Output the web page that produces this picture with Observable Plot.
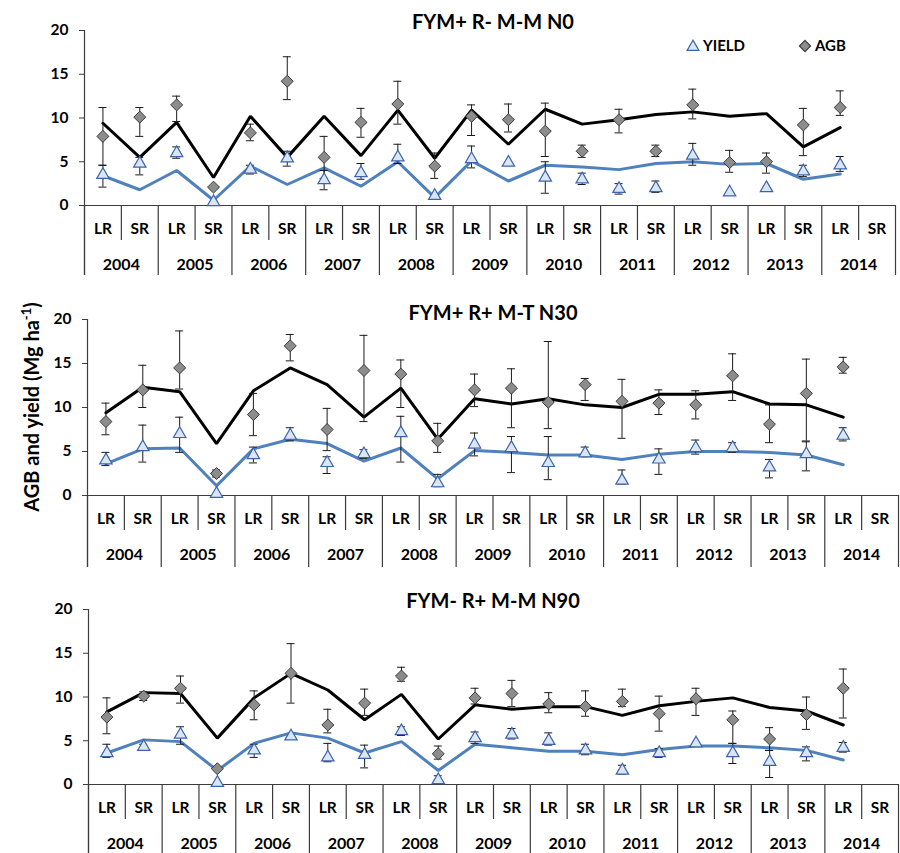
<!DOCTYPE html>
<html>
<head>
<meta charset="utf-8">
<script src="https://cdn.jsdelivr.net/npm/d3@7"></script>
<script src="https://cdn.jsdelivr.net/npm/@observablehq/plot@0.6"></script>
<style>
  html, body { margin: 0; padding: 0; background: #fff; }
  #wrap { position: relative; width: 900px; height: 853px; overflow: hidden; font-family: Lato, "Open Sans", sans-serif; color: #000; }
  #wrap svg { position: absolute; left: 0; overflow: visible; }
  .ptitle { position: absolute; font-weight: 700; font-size: 20px; white-space: nowrap; transform: translateX(-50%); line-height: 1; }
  .ytitle { position: absolute; font-weight: 700; font-size: 20px; white-space: nowrap; transform: translate(-50%, -50%) rotate(-90deg); line-height: 1; }
  .ytitle sup { font-size: 13px; vertical-align: 8px; line-height: 0; }
  .legend { position: absolute; font-weight: 700; font-size: 15px; line-height: 1; display: flex; align-items: center; white-space: nowrap; }
  .legend svg { position: static !important; margin-right: 3px; }
</style>
</head>
<body>
<div id="wrap"></div>
<script>
// ---------- categories ----------
const seasons = ["LR", "SR"];
const years = [2004, 2005, 2006, 2007, 2008, 2009, 2010, 2011, 2012, 2013, 2014];
const yTicks = [0, 5, 10, 15, 20];
const titles = ["FYM+ R- M-M N0", "FYM+ R+ M-T N30", "FYM- R+ M-M N90"];

// ---------- Panel 1: FYM+ R- M-M N0 ----------
const agbObs1  = [7.9, 10.1, 11.5, 2.1, 8.3, 14.2, 5.5, 9.5, 11.6, 4.5, 10.2, 9.8, 8.5, 6.2, 9.8, 6.2, 11.5, 4.9, 5.0, 9.2, 11.2, null];
const agbLo1   = [4.6, 7.9, 9.6, null, 7.4, 12.1, 3.1, 7.8, 9.3, 3.1, 8.0, 8.4, 5.6, 5.5, 8.3, 5.6, 9.9, 3.8, 3.7, 5.7, 10.3, null];
const agbHi1   = [11.2, 11.2, 12.5, null, 9.3, 17.0, 7.9, 11.1, 14.2, 6.0, 11.5, 11.6, 11.7, 6.9, 11.0, 6.9, 13.3, 6.3, 6.0, 11.1, 13.1, null];
const yldObs1  = [3.5, 4.8, 6.0, 0.4, 4.1, 5.4, 2.9, 3.7, 5.5, 1.1, 5.3, 4.9, 3.2, 3.0, 1.9, 2.0, 5.7, 1.5, 2.0, 3.9, 4.6, null];
const yldLo1   = [2.1, 3.5, 5.4, null, 3.6, 4.5, 1.8, 3.0, 4.8, null, 4.3, null, 1.4, 2.4, 1.3, 1.5, 4.6, null, null, 3.3, 3.9, null];
const yldHi1   = [4.6, 5.5, 6.7, null, 4.6, 6.2, 4.0, 4.8, 7.0, null, 6.8, null, 5.0, 3.7, 2.5, 2.8, 7.1, null, null, 4.6, 5.6, null];
const agbSim1  = [9.4, 5.5, 9.5, 3.2, 10.2, 5.5, 10.2, 5.7, 10.9, 5.4, 10.9, 7.0, 11.0, 9.3, 9.8, 10.4, 10.7, 10.2, 10.5, 6.7, 8.9, null];
const yldSim1  = [3.4, 1.8, 4.0, 0.6, 4.5, 2.4, 4.3, 2.2, 5.0, 0.9, 5.1, 2.8, 4.6, 4.4, 4.1, 4.8, 5.0, 4.7, 4.8, 3.0, 3.6, null];

// ---------- Panel 2: FYM+ R+ M-T N30 ----------
const agbObs2  = [8.4, 12.0, 14.5, 2.5, 9.2, 17.0, 7.5, 14.2, 13.8, 6.2, 12.0, 12.2, 10.6, 12.6, 10.7, 10.5, 10.3, 13.6, 8.1, 11.6, 14.6, null];
const agbLo2   = [6.9, 10.0, 12.1, 2.1, 6.8, 15.3, 5.1, 8.4, 10.0, 4.9, 10.1, 7.7, 7.6, 10.8, 6.5, 9.2, 8.7, 10.8, 6.0, 6.2, 13.9, null];
const agbHi2   = [10.5, 14.8, 18.7, 2.9, 11.6, 18.3, 9.9, 18.2, 15.4, 8.2, 13.8, 14.4, 17.5, 13.3, 13.2, 12.0, 11.9, 16.1, 10.3, 15.5, 15.7, null];
const yldObs2  = [4.0, 5.5, 7.0, 0.2, 4.6, 6.8, 3.7, 4.7, 7.1, 1.4, 5.8, 5.4, 3.7, 4.8, 1.7, 4.1, 5.4, 5.4, 3.2, 4.7, 6.8, null];
const yldLo2   = [3.4, 3.8, 4.9, null, 3.7, 6.2, 2.5, 4.2, 3.8, 1.0, 4.5, 2.6, 1.8, 4.4, 1.3, 2.4, 4.7, 4.9, 2.0, 2.8, 6.2, null];
const yldHi2   = [4.9, 8.0, 8.9, null, 5.5, 7.7, 4.4, 5.2, 9.0, 2.4, 7.1, 6.7, 6.7, 5.5, 2.9, 5.3, 6.3, 6.0, 4.1, 6.1, 7.7, null];
const agbSim2  = [9.4, 12.3, 11.8, 5.9, 11.9, 14.5, 12.6, 8.9, 12.2, 6.4, 11.0, 10.4, 11.0, 10.3, 10.0, 11.5, 11.5, 11.8, 10.4, 10.3, 8.9, null];
const yldSim2  = [3.6, 5.3, 5.4, 1.1, 5.3, 6.4, 5.9, 3.9, 5.4, 1.9, 5.1, 4.9, 4.6, 4.6, 4.1, 4.7, 5.0, 5.0, 4.9, 4.6, 3.5, null];

// ---------- Panel 3: FYM- R+ M-M N90 ----------
const agbObs3  = [7.7, 10.1, 11.0, 1.8, 9.1, 12.7, 6.8, 9.3, 12.4, 3.5, 9.9, 10.4, 9.2, 8.9, 9.5, 8.1, 9.8, 7.4, 5.2, 8.0, 11.0, null];
const agbLo3   = [5.8, 9.6, 9.3, null, 7.4, 9.3, 5.9, 7.9, 11.8, 2.9, 9.2, 8.9, 8.2, 7.8, 8.9, 6.1, 7.9, 4.7, 3.9, 6.3, 7.6, null];
const agbHi3   = [9.9, 10.6, 12.4, null, 10.7, 16.1, 8.6, 10.9, 13.4, 4.4, 11.0, 11.9, 10.5, 10.7, 10.9, 10.1, 11.0, 8.4, 6.5, 10.0, 13.2, null];
const yldObs3  = [3.6, 4.3, 5.7, 0.2, 3.9, 5.5, 3.1, 3.4, 6.1, 0.5, 5.3, 5.7, 5.0, 3.9, 1.6, 3.6, 4.7, 3.6, 2.6, 3.6, 4.2, null];
const yldLo3   = [3.1, 4.0, 4.6, null, 3.1, null, 2.6, 1.9, 5.6, 0.1, 4.7, 5.2, 4.5, 3.4, 1.2, 3.1, null, 2.4, 0.8, 2.7, 3.7, null];
const yldHi3   = [4.6, 4.6, 6.6, null, 4.6, null, 4.7, 4.5, 6.6, 1.0, 6.0, 6.4, 5.9, 4.6, 2.2, 4.1, null, 4.7, 3.9, 4.3, 4.8, null];
const agbSim3  = [8.3, 10.5, 10.4, 5.3, 9.9, 12.7, 10.8, 7.4, 10.3, 5.2, 9.1, 8.6, 8.9, 8.9, 7.9, 9.0, 9.5, 9.9, 8.8, 8.4, 6.8, null];
const yldSim3  = [3.6, 5.1, 4.9, 1.6, 4.7, 5.9, 5.3, 3.6, 4.9, 1.6, 4.6, 4.2, 3.8, 3.8, 3.4, 4.0, 4.4, 4.4, 4.2, 3.9, 2.8, null];

// ---------- styling constants ----------
const AXIS = "#3c3c3c";
const ERR = "#1a1a1a";
const SIM_AGB = "#000000";
const SIM_YLD = "#4f81bd";
const TRI_FILL = "#dce6f2";
const TRI_STROKE = "#3b64ad";
const DIA_FILL = "#8c8c8c";
const DIA_STROKE = "#3a3a3a";

function buildRows(s) {
  const n = years.length * seasons.length;
  return d3.range(n).map(i => ({
    i,
    season: seasons[i % 2],
    agb: s.agbObs[i], agbLo: s.agbLo[i], agbHi: s.agbHi[i],
    yld: s.yldObs[i], yldLo: s.yldLo[i], yldHi: s.yldHi[i],
    agbSim: s.agbSim[i], yldSim: s.yldSim[i]
  }));
}

function makePanel(s, m) {
  const rows = buildRows(s);
  const n = rows.length;
  const k = 20 / (m.height - m.top - m.bottom); // data units per pixel
  const px = p => -p * k;
  const capW = 4 / ((900 - m.left - m.right) / n); // half cap width in x-units
  const yearEdges = d3.range(0, n + 1, 2).map(v => v - 0.5);
  const seasonEdges = d3.range(1, n, 2).map(v => v - 0.5);
  const yearRows = years.map((y, j) => ({x: 2 * j + 0.5, y}));
  const has = key => rows.filter(d => d[key] != null);

  return Plot.plot({
    width: 900,
    height: m.height,
    marginTop: m.top, marginBottom: m.bottom, marginLeft: m.left, marginRight: m.right,
    x: {type: "linear", domain: [-0.5, n - 0.5], axis: null},
    y: {domain: [0, 20], axis: null},
    style: {fontFamily: "Lato, 'Open Sans', sans-serif", color: "#000", background: "transparent"},
    marks: [
      // y axis ticks & labels
      Plot.axisY(yTicks, {tickSize: 5, tickPadding: 11, fontSize: 15.5, fontWeight: 700, stroke: AXIS, fill: "#000", label: null}),
      // category table lines
      Plot.ruleY([0], {stroke: AXIS, strokeWidth: 1.2}),
      Plot.ruleX([-0.5], {y1: px(m.table), y2: 20, stroke: AXIS, strokeWidth: 1.2}),
      Plot.ruleX(yearEdges, {y1: 0, y2: px(m.table), stroke: AXIS, strokeWidth: 1.2}),
      Plot.ruleX(seasonEdges, {y1: 0, y2: px(35), stroke: AXIS, strokeWidth: 1.2}),
      Plot.text(rows, {x: "i", y: 0, dy: 24, text: "season", fontSize: 15.5, fontWeight: 700, fill: "#000"}),
      Plot.text(yearRows, {x: "x", y: 0, dy: 59, text: d => String(d.y), fontSize: 16, fontWeight: 700, fill: "#000"}),
      // simulated lines
      Plot.line(has("agbSim"), {x: "i", y: "agbSim", stroke: SIM_AGB, strokeWidth: 3, strokeLinejoin: "miter"}),
      Plot.line(has("yldSim"), {x: "i", y: "yldSim", stroke: SIM_YLD, strokeWidth: 3, strokeLinejoin: "miter"}),
      // error bars
      Plot.ruleX(has("agbLo"), {x: "i", y1: "agbLo", y2: "agbHi", stroke: ERR, strokeWidth: 1}),
      Plot.ruleY(has("agbLo"), {y: "agbLo", x1: d => d.i - capW, x2: d => d.i + capW, stroke: ERR, strokeWidth: 1}),
      Plot.ruleY(has("agbHi"), {y: "agbHi", x1: d => d.i - capW, x2: d => d.i + capW, stroke: ERR, strokeWidth: 1}),
      Plot.ruleX(has("yldLo"), {x: "i", y1: "yldLo", y2: "yldHi", stroke: ERR, strokeWidth: 1}),
      Plot.ruleY(has("yldLo"), {y: "yldLo", x1: d => d.i - capW, x2: d => d.i + capW, stroke: ERR, strokeWidth: 1}),
      Plot.ruleY(has("yldHi"), {y: "yldHi", x1: d => d.i - capW, x2: d => d.i + capW, stroke: ERR, strokeWidth: 1}),
      // observed markers
      Plot.dot(has("yld"), {x: "i", y: "yld", symbol: "triangle", r: 4.6, fill: TRI_FILL, stroke: TRI_STROKE, strokeWidth: 1.2}),
      Plot.dot(has("agb"), {x: "i", y: "agb", symbol: "diamond2", r: 5.4, fill: DIA_FILL, stroke: DIA_STROKE, strokeWidth: 1})
    ]
  });
}

const series = [
  {agbObs: agbObs1, agbLo: agbLo1, agbHi: agbHi1, yldObs: yldObs1, yldLo: yldLo1, yldHi: yldHi1, agbSim: agbSim1, yldSim: yldSim1},
  {agbObs: agbObs2, agbLo: agbLo2, agbHi: agbHi2, yldObs: yldObs2, yldLo: yldLo2, yldHi: yldHi2, agbSim: agbSim2, yldSim: yldSim2},
  {agbObs: agbObs3, agbLo: agbLo3, agbHi: agbHi3, yldObs: yldObs3, yldLo: yldLo3, yldHi: yldHi3, agbSim: agbSim3, yldSim: yldSim3}
];
const layout = [
  {svgTop: 0,   height: 283, top: 30, bottom: 78, left: 84, right: 5, table: 70, titleTop: 11},
  {svgTop: 290, height: 283, top: 29, bottom: 78, left: 87, right: 2, table: 72, titleTop: 302},
  {svgTop: 570, height: 283, top: 39, bottom: 69, left: 88, right: 2, table: 69, titleTop: 590}
];

const wrap = document.getElementById("wrap");
series.forEach((s, p) => {
  const m = layout[p];
  const svg = makePanel(s, m);
  svg.style.top = m.svgTop + "px";
  wrap.appendChild(svg);
  const t = document.createElement("div");
  t.className = "ptitle";
  t.textContent = titles[p];
  t.style.left = "493px";
  t.style.top = m.titleTop + "px";
  wrap.appendChild(t);
});

// y-axis title
const yt = document.createElement("div");
yt.className = "ytitle";
yt.innerHTML = "AGB and yield (Mg ha<sup>-1</sup>)";
yt.style.left = "31px";
yt.style.top = "407px";
wrap.appendChild(yt);

// legend (panel 1)
function legendItem(label, symbol, fill, stroke, r, left, top) {
  const div = document.createElement("div");
  div.className = "legend";
  div.style.left = left + "px";
  div.style.top = top + "px";
  const size = 14;
  const sv = d3.create("svg").attr("width", size).attr("height", size);
  sv.append("path")
    .attr("transform", `translate(${size / 2},${size / 2 + (symbol === d3.symbolTriangle ? 1 : 0)})`)
    .attr("d", d3.symbol(symbol, Math.PI * r * r)())
    .attr("fill", fill).attr("stroke", stroke).attr("stroke-width", 1.2);
  div.appendChild(sv.node());
  const span = document.createElement("span");
  span.textContent = label;
  div.appendChild(span);
  wrap.appendChild(div);
}
legendItem("YIELD", d3.symbolTriangle, TRI_FILL, TRI_STROKE, 4.4, 686, 38);
legendItem("AGB", d3.symbolDiamond2, DIA_FILL, DIA_STROKE, 5.0, 798, 38);
</script>
</body>
</html>
